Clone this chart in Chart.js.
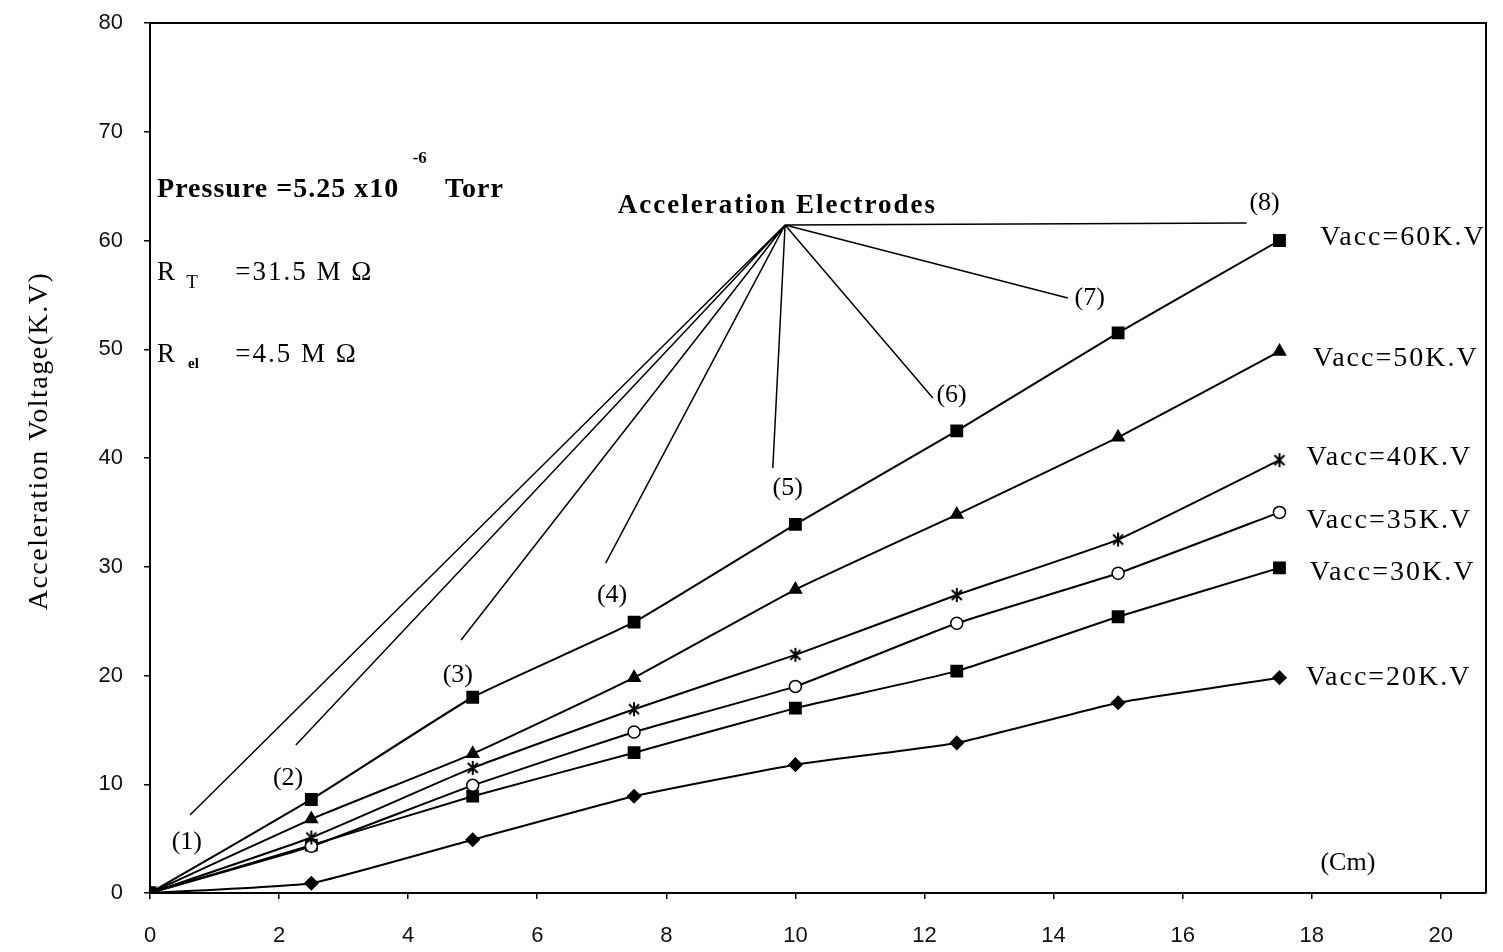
<!DOCTYPE html>
<html>
<head>
<meta charset="utf-8">
<script src="https://cdn.jsdelivr.net/npm/chart.js@4.4.1/dist/chart.umd.min.js"></script>
<style>
  html, body { margin: 0; padding: 0; background: #fff; }
  #wrap { width: 1503px; height: 952px; }
</style>
</head>
<body>
<div id="wrap"><canvas id="chart" width="1503" height="952"></canvas></div>
<script>
// Distance along the accelerating column (cm) and voltage at each electrode (kV)
const distanceCm = [0, 2.5, 5, 7.5, 10, 12.5, 15, 17.5];
const vacc60 = [0, 8.6, 18.0, 24.9, 33.9, 42.5, 51.5, 60.0];
const vacc50 = [0, 6.8, 12.8, 19.8, 27.9, 34.8, 41.9, 49.8];
const vacc40 = [0, 5.1, 11.5, 16.9, 21.9, 27.4, 32.5, 39.8];
const vacc35 = [0, 4.3, 9.9, 14.8, 19.0, 24.8, 29.4, 35.0];
const vacc30 = [0, 4.4, 8.9, 12.9, 17.0, 20.4, 25.4, 29.9];
const vacc20 = [0, 0.9, 4.9, 8.9, 11.8, 13.8, 17.5, 19.8];

const seriesNames = ['Vacc=60K.V', 'Vacc=50K.V', 'Vacc=40K.V', 'Vacc=35K.V', 'Vacc=30K.V', 'Vacc=20K.V'];
const electrodeNames = ['(1)', '(2)', '(3)', '(4)', '(5)', '(6)', '(7)', '(8)'];

const xTickValues = [0, 2, 4, 6, 8, 10, 12, 14, 16, 18, 20];
const yTickValues = [0, 10, 20, 30, 40, 50, 60, 70, 80];

// Placement of the drawn notes, in axis units (x in cm, y in kV)
const leaderApex = { x: 9.84, y: 61.43 };
const leaderEnds = [
  { x: 0.62, y: 7.17 }, { x: 2.26, y: 13.61 }, { x: 4.82, y: 23.26 }, { x: 7.06, y: 30.34 },
  { x: 9.65, y: 39.08 }, { x: 12.13, y: 45.52 }, { x: 14.22, y: 54.71 }, { x: 16.99, y: 61.61 }
];
const electrodeLabelAt = [
  { x: 0.57, y: 4.69 }, { x: 2.14, y: 10.57 }, { x: 4.77, y: 20.05 }, { x: 7.16, y: 27.4 },
  { x: 9.88, y: 37.24 }, { x: 12.42, y: 45.79 }, { x: 14.56, y: 54.71 }, { x: 17.27, y: 63.45 }
];
const seriesLabelAt = [
  { x: 18.13, y: 59.59 }, { x: 18.02, y: 48.46 }, { x: 17.92, y: 39.36 },
  { x: 17.92, y: 33.56 }, { x: 17.97, y: 28.78 }, { x: 17.91, y: 19.13 }
];

const SERIF = '"Liberation Serif", "Times New Roman", serif';
const SANS = '"Liberation Sans", Arial, sans-serif';

// Cross-with-bar marker used for the 40 kV series
function makeCrossMarker() {
  const c = document.createElement('canvas');
  c.width = 16; c.height = 16;
  const g = c.getContext('2d');
  g.strokeStyle = '#000';
  g.lineWidth = 2;
  g.beginPath();
  g.moveTo(3, 3); g.lineTo(13, 13);
  g.moveTo(13, 3); g.lineTo(3, 13);
  g.moveTo(8, 1); g.lineTo(8, 15);
  g.stroke();
  return c;
}

function pairs(ys) { return distanceCm.map((x, i) => ({ x, y: ys[i] })); }

function series(label, ys, style, radius, fill) {
  return {
    label,
    data: pairs(ys),
    borderColor: '#000',
    borderWidth: 2,
    pointStyle: style,
    pointRadius: radius,
    pointBackgroundColor: fill,
    pointBorderColor: '#000',
    pointBorderWidth: 1.5,
    tension: 0.12,
    fill: false
  };
}

function text(ctx, str, x, y, font, opts = {}) {
  ctx.save();
  ctx.font = font;
  ctx.fillStyle = '#000';
  ctx.textAlign = opts.align || 'left';
  ctx.textBaseline = opts.baseline || 'alphabetic';
  if ('letterSpacing' in ctx) ctx.letterSpacing = (opts.spacing || 0) + 'px';
  ctx.fillText(str, x, y);
  ctx.restore();
}

const notesPlugin = {
  id: 'notes',
  afterDraw(chart) {
    const { ctx, chartArea: a, scales: { x: sx, y: sy } } = chart;
    const px = v => sx.getPixelForValue(v);
    const py = v => sy.getPixelForValue(v);

    // frame: top and right edges of the plot box
    ctx.save();
    ctx.strokeStyle = '#000';
    ctx.lineWidth = 2;
    ctx.beginPath();
    ctx.moveTo(a.left, a.top);
    ctx.lineTo(a.right, a.top);
    ctx.lineTo(a.right, a.bottom);
    ctx.stroke();

    // leader lines from the "Acceleration Electrodes" note
    ctx.lineWidth = 1.5;
    ctx.beginPath();
    leaderEnds.forEach(e => {
      ctx.moveTo(px(leaderApex.x), py(leaderApex.y));
      ctx.lineTo(px(e.x), py(e.y));
    });
    ctx.stroke();
    ctx.restore();

    electrodeNames.forEach((s, i) => {
      text(ctx, s, px(electrodeLabelAt[i].x), py(electrodeLabelAt[i].y), '26px ' + SERIF,
        { align: 'center', baseline: 'middle' });
    });

    text(ctx, 'Acceleration Electrodes', px(9.72), py(62.53), 'bold 27px ' + SERIF,
      { align: 'center', spacing: 2 });

    seriesNames.forEach((s, i) => {
      text(ctx, s, px(seriesLabelAt[i].x), py(seriesLabelAt[i].y), '28px ' + SERIF, { spacing: 2 });
    });

    // run conditions
    text(ctx, 'Pressure =5.25 x10', px(0.11), py(64.0), 'bold 28px ' + SERIF, { spacing: 1 });
    text(ctx, '-6', px(4.07), py(67.13), 'bold 17px ' + SERIF);
    text(ctx, 'Torr', px(4.57), py(64.0), 'bold 28px ' + SERIF, { spacing: 1 });
    text(ctx, 'R', px(0.11), py(56.37), '27px ' + SERIF);
    text(ctx, 'T', px(0.56), py(55.63), '19px ' + SERIF);
    text(ctx, '=31.5 M \u03A9', px(1.32), py(56.37), '27px ' + SERIF, { spacing: 2 });
    text(ctx, 'R', px(0.11), py(48.83), '27px ' + SERIF);
    text(ctx, 'el', px(0.59), py(48.28), 'bold 15px ' + SERIF);
    text(ctx, '=4.5 M \u03A9', px(1.32), py(48.83), '27px ' + SERIF, { spacing: 2 });

    text(ctx, '(Cm)', px(18.56), py(2.11), '26px ' + SERIF, { align: 'center' });

    // y-axis title
    ctx.save();
    ctx.translate(47, (a.top + a.bottom) / 2 - 17);
    ctx.rotate(-Math.PI / 2);
    text(ctx, 'Acceleration Voltage(K.V)', 0, 0, '28px ' + SERIF, { align: 'center', spacing: 1.5 });
    ctx.restore();
  }
};

const crossMarker = makeCrossMarker();

new Chart(document.getElementById('chart'), {
  type: 'line',
  data: {
    datasets: [
      series(seriesNames[0], vacc60, 'rect', 8, '#000'),
      series(seriesNames[1], vacc50, 'triangle', 7, '#000'),
      series(seriesNames[2], vacc40, crossMarker, 7, '#000'),
      series(seriesNames[3], vacc35, 'circle', 6, '#fff'),
      series(seriesNames[4], vacc30, 'rect', 8, '#000'),
      series(seriesNames[5], vacc20, 'rectRot', 6.5, '#000')
    ]
  },
  options: {
    responsive: false,
    animation: false,
    devicePixelRatio: 1,
    layout: { padding: { top: 23, right: 17, left: 0, bottom: 0 } },
    plugins: { legend: { display: false }, tooltip: { enabled: false } },
    scales: {
      x: {
        type: 'linear',
        min: 0,
        max: 20.7,
        afterBuildTicks: s => { s.ticks = xTickValues.map(v => ({ value: v })); },
        afterFit: s => { s.height = 59; s.paddingLeft = 0; s.paddingRight = 0; },
        ticks: { font: { family: SANS, size: 22 }, color: '#111', padding: 24, maxRotation: 0, autoSkip: false },
        grid: { drawOnChartArea: false, drawTicks: true, tickLength: 6, color: '#000', lineWidth: 1.5 },
        border: { display: true, color: '#000', width: 2 }
      },
      y: {
        type: 'linear',
        min: 0,
        max: 80,
        afterBuildTicks: s => { s.ticks = yTickValues.map(v => ({ value: v })); },
        afterFit: s => { s.width = 150; s.paddingTop = 0; s.paddingBottom = 0; },
        ticks: { font: { family: SANS, size: 22 }, color: '#111', padding: 21 },
        grid: { drawOnChartArea: false, drawTicks: true, tickLength: 6, color: '#000', lineWidth: 1.5 },
        border: { display: true, color: '#000', width: 2 }
      }
    }
  },
  plugins: [notesPlugin]
});
</script>
</body>
</html>
